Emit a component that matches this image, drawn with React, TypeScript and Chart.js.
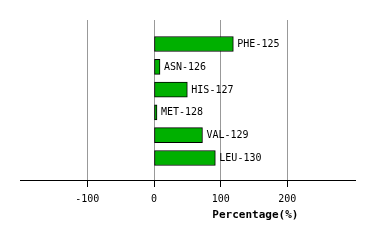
import React, { useEffect, useRef } from "react";
import { Chart, registerables } from "chart.js";

Chart.register(...registerables);

const categories = ["PHE-125", "ASN-126", "HIS-127", "MET-128", "VAL-129", "LEU-130"];
const values = [119, 9, 50, 4.5, 72.7, 92];
const tickValues = [-100, 0, 100, 200];
const axisMin = -201;
const axisMax = 301.5;
const axisTitle = "Percentage(%)";

const labelsPlugin = {
  id: "barLabels",
  afterDatasetsDraw(chart: any) {
    const ctx = chart.ctx;
    const meta = chart.getDatasetMeta(0);
    ctx.save();
    ctx.font = "10px 'DejaVu Sans Mono'";
    ctx.fillStyle = "#000";
    ctx.textBaseline = "middle";
    ctx.textAlign = "left";
    meta.data.forEach((el: any, i: number) => {
      ctx.fillText(categories[i], el.x + 4, el.y + 0.5);
    });
    ctx.font = "bold 11px 'DejaVu Sans Mono'";
    ctx.textAlign = "center";
    ctx.textBaseline = "alphabetic";
    const xs = chart.scales.x;
    ctx.fillText(axisTitle, xs.getPixelForValue(152), 217.5);
    ctx.restore();
  },
};

export default function App() {
  const ref = useRef<HTMLCanvasElement>(null);
  useEffect(() => {
    document.body.style.margin = "0";
    const data = values.map((v, i) => ({ x: v, y: i }));
    const chart = new Chart(ref.current!, {
      type: "bar",
      data: {
        datasets: [
          {
            data,
            backgroundColor: "#00b000",
            borderColor: "#000",
            borderWidth: 1,
            borderSkipped: false,
            barThickness: 15,
          } as any,
        ],
      },
      options: {
        indexAxis: "y",
        animation: false,
        responsive: false,
        events: [],
        layout: { padding: { left: 20, right: 19, top: 20, bottom: 20 } },
        plugins: { legend: { display: false }, tooltip: { enabled: false } },
        scales: {
          x: {
            type: "linear",
            min: axisMin,
            max: axisMax,
            afterBuildTicks: (axis: any) => {
              axis.ticks = tickValues.map((v) => ({ value: v }));
            },
            afterFit: (scale: any) => {
              scale.height = 40;
            },
            grid: {
              color: "#999",
              drawTicks: true,
              tickLength: 7,
              tickColor: "#000",
              lineWidth: 1,
            },
            border: { display: true, color: "#000", width: 1 },
            ticks: {
              font: { family: "'DejaVu Sans Mono'", size: 10 },
              color: "#000",
              padding: 6,
              maxRotation: 0,
              autoSkip: false,
            },
          },
          y: {
            type: "linear",
            display: false,
            reverse: true,
            offset: false,
            grace: 0,
            min: -1.053,
            max: 5.965,
          },
        },
      },
      plugins: [labelsPlugin],
    });
    return () => chart.destroy();
  }, []);
  return <canvas ref={ref} width={374} height={240} style={{ display: "block" }} />;
}
